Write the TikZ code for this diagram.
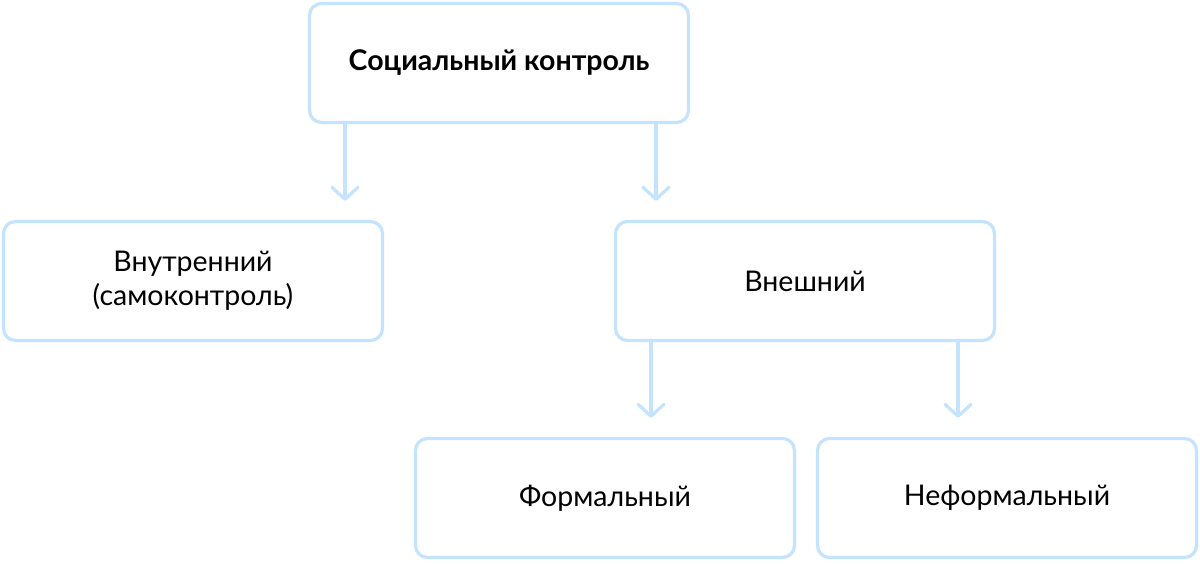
\documentclass[tikz,border=0pt]{standalone}
\usepackage{fontspec}
\setmainfont{Lato}
\usetikzlibrary{arrows.meta}
\definecolor{lightblue}{HTML}{C4E3FF}
\tikzset{
  box/.style={draw=lightblue, line width=3.2pt, rounded corners=12pt, minimum width=379pt, minimum height=119pt, align=center, font=\fontsize{28.5}{34}\selectfont},
  arr/.style={lightblue, line width=3.2pt, line cap=round, -{Straight Barb[length=12pt,width=26pt,line cap=round,round]}, shorten >=19pt}
}
\begin{document}
\begin{tikzpicture}[x=1pt,y=1pt]
  \useasboundingbox (0,0) rectangle (1200,-563);
  \node[box, font=\fontsize{28.5}{34}\selectfont\bfseries] (social) at (499,-63) {Социальный контроль};
  \node[box] (inner) at (193,-281) {Внутренний\\(самоконтроль)};
  \node[box] (outer) at (805,-281) {Внешний};
  \node[box] (formal) at (605,-498) {Формальный};
  \node[box] (informal) at (1007,-498) {Неформальный};
  \coordinate (a1) at (345,0);
  \coordinate (a2) at (656,0);
  \coordinate (a3) at (651,0);
  \coordinate (a4) at (958,0);
  \draw[arr] (social.south -| a1) -- (inner.north -| a1);
  \draw[arr] (social.south -| a2) -- (outer.north -| a2);
  \draw[arr] (outer.south -| a3) -- (formal.north -| a3);
  \draw[arr] (outer.south -| a4) -- (informal.north -| a4);
\end{tikzpicture}
\end{document}
